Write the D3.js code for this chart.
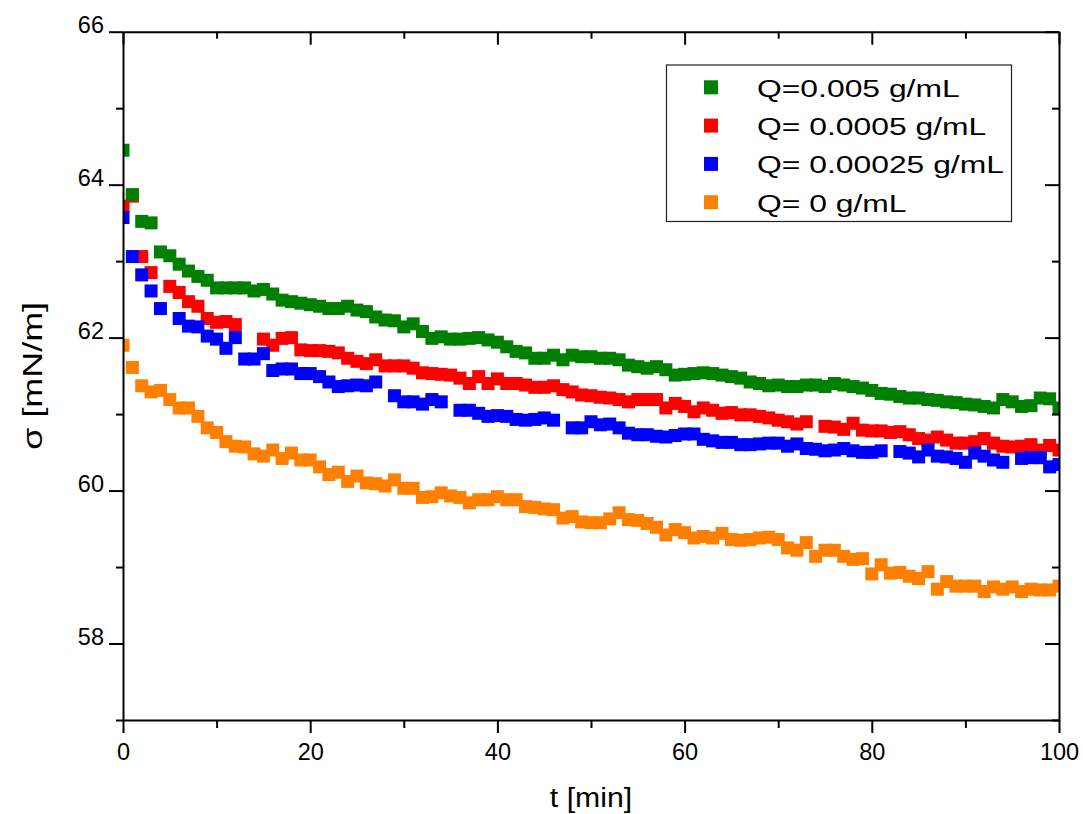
<!DOCTYPE html>
<html>
<head>
<meta charset="utf-8">
<script src="https://cdn.jsdelivr.net/npm/d3@7"></script>
<style>
  html, body { margin: 0; padding: 0; background: #fff; }
  svg { display: block; }
  text { font-family: "Liberation Sans", Arial, sans-serif; fill: #000; }
</style>
</head>
<body>
<svg id="chart" width="1083" height="814"></svg>
<script>
// ---- data ----
const times = [0,1,2,3,4,5,6,7,8,9,10,11,12,13,14,15,16,17,18,19,
  20,21,22,23,24,25,26,27,28,29,30,31,32,33,34,35,36,37,38,39,
  40,41,42,43,44,45,46,47,48,49,50,51,52,53,54,55,56,57,58,59,
  60,61,62,63,64,65,66,67,68,69,70,71,72,73,74,75,76,77,78,79,
  80,81,82,83,84,85,86,87,88,89,90,91,92,93,94,95,96,97,98,99,100];

const green = [64.45,63.87,63.52,63.50,63.12,63.07,62.96,62.87,62.80,62.75,62.65,62.65,62.65,62.65,62.61,62.63,62.57,62.49,62.47,62.45,
  62.43,62.41,62.38,62.38,62.41,62.36,62.34,62.27,62.23,62.22,62.14,62.18,62.08,61.99,62.01,61.98,61.98,61.99,62.00,61.97,
  61.94,61.88,61.82,61.80,61.73,61.73,61.77,61.71,61.77,61.75,61.75,61.73,61.73,61.71,61.64,61.62,61.60,61.62,61.58,61.51,
  61.52,61.53,61.54,61.53,61.51,61.49,61.47,61.42,61.40,61.37,61.38,61.36,61.36,61.38,61.38,61.36,61.40,61.38,61.36,61.34,
  61.31,61.27,61.26,61.23,61.21,61.21,61.19,61.18,61.16,61.15,61.13,61.12,61.10,61.08,61.19,61.16,61.10,61.11,61.21,61.20,61.08];

const red = [63.72,63.85,63.06,62.85,null,62.67,62.59,62.47,62.41,62.25,62.20,62.21,62.17,null,null,61.98,61.90,61.99,62.00,61.84,
  61.83,61.83,61.82,61.80,61.73,61.69,61.66,61.71,61.63,61.63,61.63,61.60,61.54,61.53,61.52,61.51,61.47,61.40,61.49,61.40,
  61.46,61.40,61.40,61.38,61.35,61.35,61.37,61.32,61.29,61.25,61.24,61.22,61.21,61.19,61.16,61.19,61.19,61.19,61.08,61.14,
  61.10,61.03,61.08,61.05,61.01,61.02,60.99,60.99,60.97,60.95,60.92,60.90,60.87,60.90,null,60.84,60.83,60.80,60.88,60.79,
  60.78,60.78,60.76,60.77,60.73,60.68,60.66,60.70,60.66,60.62,60.62,60.64,60.68,60.62,60.58,60.57,60.58,60.60,60.53,60.59,60.53];

const blue = [63.57,63.06,62.82,62.61,62.38,null,62.25,62.15,62.14,62.02,61.98,61.86,62.00,61.72,61.72,61.79,61.57,61.59,61.59,61.53,
  61.53,61.49,61.42,61.36,61.37,61.38,61.37,61.42,null,61.24,61.16,61.16,61.13,61.19,61.16,null,61.05,61.05,61.01,60.97,
  60.98,60.97,60.93,60.92,60.93,60.95,60.92,null,60.82,60.82,60.90,60.86,60.87,60.82,60.75,60.73,60.73,60.71,60.70,60.72,
  60.74,60.74,60.67,60.65,60.63,60.63,60.60,60.60,60.61,60.62,60.62,60.58,60.61,60.55,60.54,60.52,60.53,60.55,60.52,60.50,
  60.50,60.52,null,60.51,60.49,60.44,60.53,60.45,60.44,60.42,60.37,60.49,60.45,60.40,60.37,null,60.42,60.43,60.43,60.31,60.34];

const orange = [61.90,61.61,61.37,61.29,61.31,61.19,61.08,61.08,60.97,60.82,60.76,60.64,60.58,60.57,60.48,60.45,60.53,60.42,60.49,60.40,
  60.40,60.31,60.21,60.24,60.12,60.19,60.10,60.09,60.06,60.14,60.03,60.03,59.91,59.92,59.97,59.93,59.91,59.84,59.88,59.88,
  59.92,59.88,59.88,59.79,59.78,59.76,59.75,59.64,59.66,59.59,59.58,59.58,59.63,59.71,59.62,59.61,59.57,59.52,59.42,59.49,
  59.45,59.38,59.40,59.38,59.44,59.36,59.35,59.36,59.38,59.39,59.36,59.25,59.22,59.32,59.14,59.22,59.22,59.14,59.10,59.11,
  58.91,59.03,58.92,58.93,58.88,58.85,58.94,58.71,58.81,58.75,58.75,58.75,58.68,58.74,58.71,58.74,58.68,58.71,58.70,58.70,58.75];

const seriesNames = ["Q=0.005 g/mL", "Q= 0.0005 g/mL", "Q= 0.00025 g/mL", "Q= 0 g/mL"];
const seriesColors = ["#008000", "#ff0000", "#0000ff", "#ff8000"];
const seriesValues = [green, red, blue, orange];
const drawOrder = [3, 1, 2, 0];

const xMajorTicks = [0, 20, 40, 60, 80, 100];
const xMinorTicks = [10, 30, 50, 70, 90];
const yMajorTicks = [58, 60, 62, 64, 66];
const yMinorTicks = [57, 59, 61, 63, 65];
const xTitle = "t [min]";
const yTitle = "σ [mN/m]";

// ---- layout ----
const L = 123, R = 1059, T = 31.7, B = 720;
const svg = d3.select("#chart");
const x = d3.scaleLinear().domain([0, 100]).range([L, R]);
const y = d3.scaleLinear().domain([57, 66]).range([B, T]);

svg.append("defs").append("clipPath").attr("id", "clip")
  .append("rect").attr("x", L).attr("y", T).attr("width", R - L).attr("height", B - T);

// ---- points ----
const size = 13;
const plot = svg.append("g").attr("clip-path", "url(#clip)");
drawOrder.forEach(i => {
  const pts = times.map((t, j) => ({t, v: seriesValues[i][j]})).filter(d => d.v !== null);
  plot.append("g").selectAll("rect").data(pts).join("rect")
    .attr("x", d => x(d.t) - size / 2)
    .attr("y", d => y(d.v) - size / 2)
    .attr("width", size).attr("height", size)
    .attr("fill", seriesColors[i]);
});

// ---- axes ----
function styleAxis(g) {
  g.selectAll("path.domain").attr("stroke", "#000").attr("stroke-width", 2);
  g.selectAll(".tick line").attr("stroke", "#000").attr("stroke-width", 2);
}
const fs = 23.5;
// bottom
svg.append("g").attr("transform", `translate(0,${B})`)
  .call(d3.axisBottom(x).tickValues(xMajorTicks).tickSize(13).tickSizeOuter(0).tickPadding(10).tickFormat(d3.format("d")))
  .call(styleAxis)
  .call(g => g.selectAll("text").attr("font-size", fs).attr("font-family", "Liberation Sans, Arial").attr("fill", "#000"));
svg.append("g").attr("transform", `translate(0,${B})`)
  .call(d3.axisBottom(x).tickValues(xMinorTicks).tickSize(8).tickSizeOuter(0).tickFormat(""))
  .call(styleAxis).call(g => g.select("path.domain").remove());
// top
svg.append("g").attr("transform", `translate(0,${T})`)
  .call(d3.axisTop(x).tickValues(xMajorTicks).tickSize(-13).tickSizeOuter(0).tickFormat(""))
  .call(styleAxis);
svg.append("g").attr("transform", `translate(0,${T})`)
  .call(d3.axisTop(x).tickValues(xMinorTicks).tickSize(-7).tickSizeOuter(0).tickFormat(""))
  .call(styleAxis).call(g => g.select("path.domain").remove());
// left
const leftAx = svg.append("g").attr("transform", `translate(${L},0)`)
  .call(d3.axisLeft(y).tickValues(yMajorTicks).tickSize(14).tickSizeOuter(0).tickPadding(5).tickFormat(d3.format("d")))
  .call(styleAxis);
leftAx.selectAll("text").attr("font-size", fs).attr("font-family", "Liberation Sans, Arial")
  .attr("fill", "#000").attr("dy", "0.05em");
svg.append("g").attr("transform", `translate(${L},0)`)
  .call(d3.axisLeft(y).tickValues(yMinorTicks).tickSize(7).tickSizeOuter(0).tickFormat(""))
  .call(styleAxis).call(g => g.select("path.domain").remove());
// right
svg.append("g").attr("transform", `translate(${R},0)`)
  .call(d3.axisRight(y).tickValues(yMajorTicks).tickSize(-14).tickSizeOuter(0).tickFormat(""))
  .call(styleAxis);
svg.append("g").attr("transform", `translate(${R},0)`)
  .call(d3.axisRight(y).tickValues(yMinorTicks).tickSize(-7).tickSizeOuter(0).tickFormat(""))
  .call(styleAxis).call(g => g.select("path.domain").remove());

// ---- titles ----
svg.append("text").attr("transform", `translate(${(L + R) / 2},807) scale(1.12,1)`)
  .attr("text-anchor", "middle").attr("font-size", 27).text(xTitle);
svg.append("text").attr("transform", `translate(42,${(T + B) / 2}) rotate(-90) scale(1.33,1)`)
  .attr("text-anchor", "middle").attr("font-size", 27).text(yTitle);

// ---- legend ----
const lg = svg.append("g");
lg.append("rect").attr("x", 666.5).attr("y", 65).attr("width", 345).attr("height", 156.5)
  .attr("fill", "#fff").attr("stroke", "#222").attr("stroke-width", 1.2);
seriesNames.forEach((name, i) => {
  const cy = 87.3 + i * 38.3;
  lg.append("rect").attr("x", 711 - 7).attr("y", cy - 7).attr("width", 14).attr("height", 14)
    .attr("fill", seriesColors[i]);
  lg.append("text").attr("transform", `translate(757,${cy + 9.5}) scale(1.3,1)`)
    .attr("font-size", 24.5).text(name);
});
</script>
</body>
</html>
